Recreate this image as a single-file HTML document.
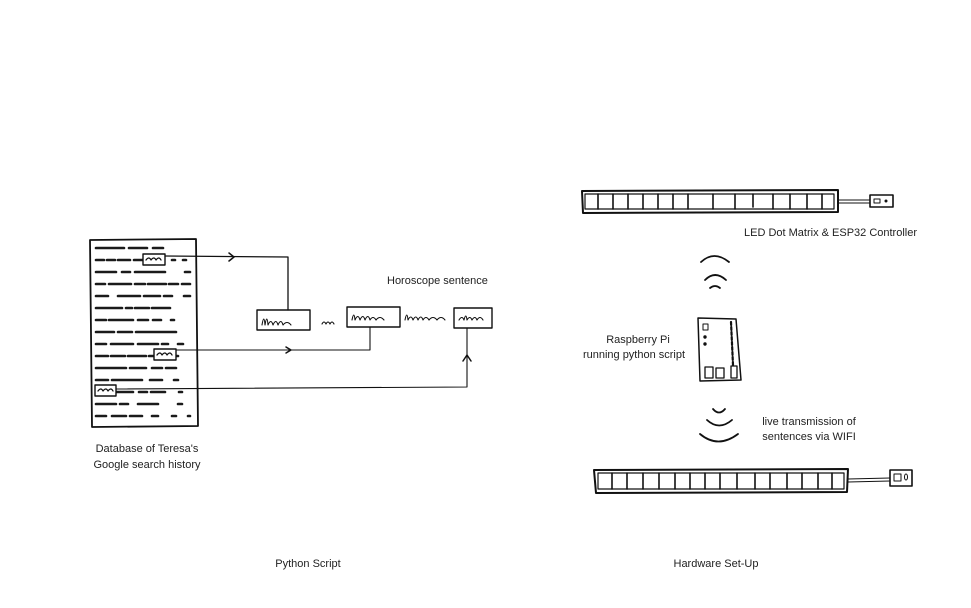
<!DOCTYPE html>
<html><head><meta charset="utf-8"><style>
html,body{margin:0;padding:0;background:#fff;}
svg{display:block}
text{font-family:"Liberation Sans",sans-serif;font-size:11px;fill:#222}
</style></head><body>
<svg width="971" height="608" viewBox="0 0 971 608" xmlns="http://www.w3.org/2000/svg">
<g fill="none" stroke="#111" stroke-linecap="round" stroke-linejoin="round">
<!-- database sheet -->
<path d="M90 240 L196 239 L198 426 L92 427 Z" stroke-width="1.8"/>
<g stroke-width="2.6" stroke="#1a1a1a">
<line x1="96" y1="248" x2="190" y2="248" stroke-dasharray="28 5 18 6 10"/>
<line x1="96" y1="260" x2="190" y2="260" stroke-dasharray="8 3 8 3 12 4 18 4 8"/>
<line x1="96" y1="272" x2="190" y2="272" stroke-dasharray="20 6 8 5 30"/>
<line x1="96" y1="284" x2="190" y2="284" stroke-dasharray="9 4 22 4 10 3 18 3"/>
<line x1="96" y1="296" x2="190" y2="296" stroke-dasharray="12 10 22 4 16 4 8"/>
<line x1="96" y1="308" x2="190" y2="308" stroke-dasharray="26 4 6 3 14 3 18"/>
<line x1="96" y1="320" x2="190" y2="320" stroke-dasharray="10 3 24 5 10 5 8"/>
<line x1="96" y1="332" x2="190" y2="332" stroke-dasharray="18 4 14 4 40"/>
<line x1="96" y1="344" x2="190" y2="344" stroke-dasharray="10 5 22 5 20 4 6"/>
<line x1="96" y1="356" x2="190" y2="356" stroke-dasharray="12 3 14 3 18 3 14"/>
<line x1="96" y1="368" x2="190" y2="368" stroke-dasharray="30 4 16 6 10 4 10"/>
<line x1="96" y1="380" x2="190" y2="380" stroke-dasharray="12 4 30 8 12"/>
<line x1="96" y1="392" x2="190" y2="392" stroke-dasharray="14 3 20 6 8 4 14"/>
<line x1="96" y1="404" x2="190" y2="404" stroke-dasharray="20 4 8 10 20"/>
<line x1="96" y1="416" x2="190" y2="416" stroke-dasharray="10 6 14 4 12"/>
</g>
<rect x="143" y="254" width="22" height="11" stroke-width="1.4" fill="#fff"/>
<path d="M146 260 q3 -4 5 0 q3 -4 5 0 q3 -4 5 0" stroke-width="1.3"/>
<rect x="154" y="349" width="22" height="11" stroke-width="1.4" fill="#fff"/>
<path d="M157 355 q3 -4 5 0 q3 -4 5 0 q3 -4 5 0" stroke-width="1.3"/>
<rect x="95" y="385" width="21" height="11" stroke-width="1.4" fill="#fff"/>
<path d="M98 391 q3 -4 5 0 q3 -4 5 0 q3 -4 5 0" stroke-width="1.3"/>

<!-- connectors -->
<path d="M165 256 L288 257 L288 310" stroke-width="1.3"/>
<path d="M229 253 L234 257 L229 261" stroke-width="1.5"/>
<path d="M176 350 L370 350 L370 327" stroke-width="1.1"/>
<path d="M286 347 L291 350 L286 353" stroke-width="1.5"/>
<path d="M116 389 L467 387 L467 328" stroke-width="1.1"/>
<path d="M463 361 L467 355 L471 361" stroke-width="1.5"/>

<!-- sentence boxes -->
<rect x="257" y="310" width="53" height="20" stroke-width="1.4"/>
<path d="M262 325 q2 -12 3 0 q2 -12 3 0 q3 -7 5 0 q3 -7 5 0 q3 -7 5 0 q4 -5 8 0" stroke-width="1.1"/>
<path d="M322 324 q2 -4 4 0 q2 -4 4 0 q2 -4 4 0" stroke-width="1.1"/>
<rect x="347" y="307" width="53" height="20" stroke-width="1.4"/>
<path d="M352 320 q2 -10 3 0 q3 -7 5 0 q3 -7 5 0 q3 -7 5 0 q3 -5 6 0 q4 -5 8 0" stroke-width="1.1"/>
<path d="M405 320 q2 -10 3 0 q3 -6 5 0 q3 -6 5 0 q3 -6 5 0 q3 -5 6 0 q4 -5 8 0 q4 -5 8 0" stroke-width="1.1"/>
<rect x="454" y="308" width="38" height="20" stroke-width="1.4"/>
<path d="M459 320 q3 -5 5 0 q2 -8 3 0 q3 -5 5 0 q3 -5 5 0 q3 -5 6 0" stroke-width="1.1"/>

<!-- top LED strip -->
<path d="M582 191 L838 190 L838 212 L583 213 Z" stroke-width="2"/>
<path d="M585 194 L834 194 L834 209 L585 209 Z" stroke-width="1.2"/>
<g stroke-width="1.6">
<line x1="598" y1="194" x2="598" y2="209"/><line x1="613" y1="194" x2="613" y2="209"/>
<line x1="628" y1="194" x2="628" y2="209"/><line x1="643" y1="194" x2="643" y2="209"/>
<line x1="658" y1="194" x2="658" y2="209"/><line x1="673" y1="194" x2="673" y2="209"/>
<line x1="688" y1="194" x2="688" y2="209"/><line x1="713" y1="194" x2="713" y2="209"/>
<line x1="735" y1="194" x2="735" y2="209"/><line x1="753" y1="194" x2="753" y2="207"/>
<line x1="773" y1="194" x2="773" y2="209"/><line x1="790" y1="194" x2="790" y2="209"/>
<line x1="807" y1="194" x2="807" y2="209"/><line x1="822" y1="194" x2="822" y2="209"/>
</g>
<path d="M838 200 L870 200 M838 203 L870 203" stroke-width="1"/>
<rect x="870" y="195" width="23" height="12" stroke-width="1.6"/>
<rect x="874" y="199" width="6" height="4" stroke-width="1"/>
<circle cx="886" cy="201" r="1" fill="#111"/>

<!-- wifi arcs top -->
<path d="M701 262 Q714 250 729 262" stroke-width="1.8"/>
<path d="M705 280 Q715 270 726 280" stroke-width="1.8"/>
<path d="M710 288 Q715 284 720 288" stroke-width="1.8"/>

<!-- Raspberry pi -->
<path d="M698 318 L736 319 L741 380 L700 381 Z" stroke-width="1.5"/>
<rect x="703" y="324" width="5" height="6" stroke-width="1"/>
<circle cx="705" cy="337" r="1.2" fill="#111"/>
<circle cx="705" cy="344" r="1.2" fill="#111"/>
<path d="M731 322 L733 365" stroke-width="2.2" stroke-dasharray="3 2"/>
<rect x="705" y="367" width="8" height="11" stroke-width="1.3"/>
<rect x="716" y="368" width="8" height="10" stroke-width="1.3"/>
<rect x="731" y="366" width="6" height="12" stroke-width="1.3"/>

<!-- wifi arcs bottom -->
<path d="M713 409 Q719 416 725 409" stroke-width="1.8"/>
<path d="M707 420 Q719 431 732 420" stroke-width="1.8"/>
<path d="M700 434 Q718 449 738 434" stroke-width="1.8"/>

<!-- bottom LED strip -->
<path d="M594 470 L848 469 L847 492 L596 493 Z" stroke-width="2"/>
<path d="M598 473 L844 473 L844 489 L598 489 Z" stroke-width="1.2"/>
<g stroke-width="1.6">
<line x1="612" y1="473" x2="612" y2="489"/><line x1="627" y1="473" x2="627" y2="489"/>
<line x1="643" y1="473" x2="643" y2="489"/><line x1="659" y1="473" x2="659" y2="489"/>
<line x1="675" y1="473" x2="675" y2="489"/><line x1="690" y1="473" x2="690" y2="489"/>
<line x1="705" y1="473" x2="705" y2="489"/><line x1="720" y1="473" x2="720" y2="489"/>
<line x1="737" y1="473" x2="737" y2="489"/><line x1="755" y1="473" x2="755" y2="489"/>
<line x1="770" y1="473" x2="770" y2="489"/><line x1="787" y1="473" x2="787" y2="489"/>
<line x1="802" y1="473" x2="802" y2="489"/><line x1="818" y1="473" x2="818" y2="489"/>
<line x1="832" y1="473" x2="832" y2="489"/>
</g>
<path d="M848 479 L890 478 M848 482 L890 481" stroke-width="1"/>
<rect x="890" y="470" width="22" height="16" stroke-width="1.6"/>
<rect x="894" y="474" width="7" height="7" stroke-width="1"/>
<ellipse cx="906" cy="477" rx="1.5" ry="3" stroke-width="1"/>
</g>

<text x="387" y="284">Horoscope sentence</text>
<text x="147" y="452" text-anchor="middle">Database of Teresa's</text>
<text x="147" y="468" text-anchor="middle">Google search history</text>
<text x="308" y="567" text-anchor="middle">Python Script</text>
<text x="716" y="567" text-anchor="middle">Hardware Set-Up</text>
<text x="744" y="236">LED Dot Matrix &amp; ESP32 Controller</text>
<text x="638" y="343" text-anchor="middle">Raspberry Pi</text>
<text x="634" y="358" text-anchor="middle">running python script</text>
<text x="809" y="425" text-anchor="middle">live transmission of</text>
<text x="809" y="440" text-anchor="middle">sentences via WIFI</text>
</svg>
</body></html>
